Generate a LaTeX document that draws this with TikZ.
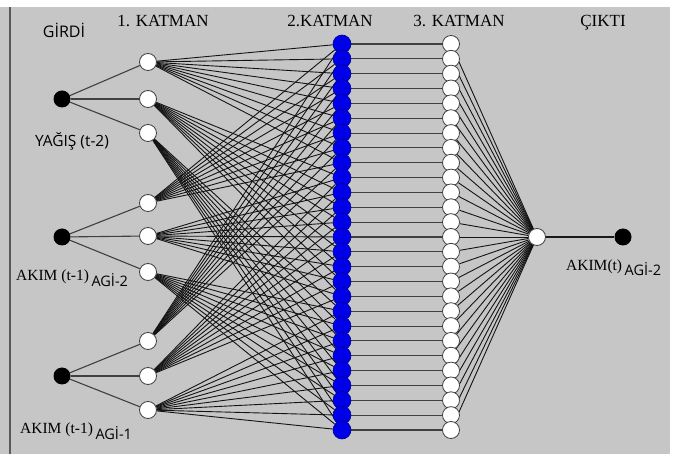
\documentclass[tikz,border=0pt]{standalone}
\usepackage{fontspec}
\setmainfont{Liberation Serif}
\newfontfamily\sansf{Open Sans}
\definecolor{panel}{RGB}{198,198,198}
\definecolor{nodeblue}{RGB}{0,0,232}
\pgfdeclarelayer{bg}
\pgfdeclarelayer{edges}
\pgfsetlayers{bg,edges,main}
\begin{document}
\begin{tikzpicture}[x=1pt,y=-1pt,
  inp/.style={circle,fill=black,minimum size=17pt,inner sep=0pt},
  hid/.style={circle,draw=black!75,fill=white,line width=0.8pt,minimum size=17pt,inner sep=0pt},
  blu/.style={circle,draw=blue!55!black,fill=nodeblue,line width=0.6pt,minimum size=18pt,inner sep=0pt},
  link/.style={line width=0.9pt,black!92},
  straight/.style={line width=1.1pt,black!75},
  serif/.style={font=\fontsize{17}{17}\selectfont,inner sep=0pt},
  sanslbl/.style={font=\sansf\fontsize{15}{15}\selectfont,inner sep=0pt},
  flow/.style={font=\fontsize{15.5}{15.5}\selectfont,inner sep=0pt,anchor=base west}
]
\useasboundingbox (0,0) rectangle (673,454);

% panel and its left rule
\begin{pgfonlayer}{bg}
  \fill[white] (0,0) rectangle (673,454);
  \fill[panel] (0,7) rectangle (670,454);
  \draw[line width=1.3pt,black!65] (10,7) -- (10,454);
\end{pgfonlayer}

% inputs
\node[inp] (x1) at (62,99) {};
\node[inp] (x2) at (62,237) {};
\node[inp] (x3) at (62,376) {};

% first hidden layer
\foreach \k/\y in {1/62,2/99,3/133,4/203,5/236,6/272,7/341,8/376,9/410}
  \node[hid] (h\k) at (148,\y) {};

% second (blue) and third hidden layers
\foreach \i in {1,...,27}{
  \pgfmathsetmacro{\yy}{44+(\i-1)*386/26}
  \node[blu] (b\i) at (342,\yy) {};
  \node[hid] (w\i) at (451,\yy) {};
}

% output
\node[hid] (o) at (537,237) {};
\node[inp] (y) at (623,237) {};

% connections
\begin{pgfonlayer}{edges}
  \foreach \g in {1,2,3}{
    \foreach \m in {0,1,2}{
      \pgfmathtruncatemacro{\k}{3*(\g-1)+\m+1}
      \draw[straight] (x\g) -- (h\k);
      \foreach \n in {1,...,9}{
        \pgfmathtruncatemacro{\j}{9*\m+\n}
        \draw[link] (h\k) -- (b\j);
      }
    }
  }
  \foreach \i in {1,...,27}{
    \draw[straight] (b\i) -- (w\i);
    \draw[link] (w\i) -- (o);
  }
  \draw[straight,black!90] (o) -- (y);
\end{pgfonlayer}

% titles
\node[sanslbl,font=\sansf\fontsize{16}{16}\selectfont] (tin) at (64,30) {GİRDİ};
\node[serif] (t1) at (163,21) {1. KATMAN};
\node[serif] (t2) at (330,21) {2.KATMAN};
\node[serif] (t3) at (459,21) {3. KATMAN};
\node[serif] (tout) at (603,23) {ÇIKTI};

% variable labels
\node[sanslbl,font=\sansf\fontsize{15.5}{15.5}\selectfont] (lrain) at (72,141) {YAĞIŞ (t-2)};
\node[flow] (lq2) at (16,281) {AKIM (t-1)\,\raisebox{-6pt}{\sansf\fontsize{14.5}{14.5}\selectfont AGİ-2}};
\node[flow] (lq1) at (20,434) {AKIM (t-1)\,\raisebox{-6pt}{\sansf\fontsize{14.5}{14.5}\selectfont AGİ-1}};
\node[flow] (lout) at (566,271) {AKIM(t)\,\raisebox{-5pt}{\sansf\fontsize{14.5}{14.5}\selectfont AGİ-2}};
\end{tikzpicture}
\end{document}
